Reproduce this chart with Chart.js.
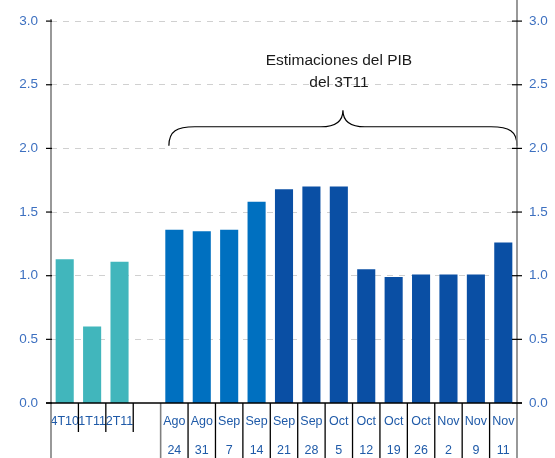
<!DOCTYPE html>
<html>
<head>
<meta charset="utf-8">
<script src="https://cdn.jsdelivr.net/npm/chart.js@4.4.1/dist/chart.umd.min.js"></script>
<style>
  html, body { margin: 0; padding: 0; background: #ffffff; }
  #wrap { width: 555px; height: 458px; }
</style>
</head>
<body>
<div id="wrap"><canvas id="c" width="555" height="458"></canvas></div>
<script>
// Quarterly GDP growth (q/q, %) and the weekly nowcasts of 3T11
const quarterLabels = ['4T10', '1T11', '2T11'];
const quarterValues = [1.13, 0.60, 1.11];

const weekLabels = [
  ['Ago', '24'], ['Ago', '31'], ['Sep', '7'], ['Sep', '14'],
  ['Sep', '21'], ['Sep', '28'], ['Oct', '5'], ['Oct', '12'],
  ['Oct', '19'], ['Oct', '26'], ['Nov', '2'], ['Nov', '9'], ['Nov', '11']
];
const earlyEstimates = [1.36, 1.35, 1.36, 1.58];
const lateEstimates = [1.68, 1.70, 1.70, 1.05, 0.99, 1.01, 1.01, 1.01, 1.26];

const yTickValues = [0, 0.5, 1.0, 1.5, 2.0, 2.5, 3.0];
const annotationLines = ['Estimaciones del PIB', 'del 3T11'];

// category axis: quarters, one empty slot, then the weekly estimates
const categories = [...quarterLabels, '', ...weekLabels];
const n = categories.length;
const gapIndex = quarterLabels.length;
const weekStart = gapIndex + 1;

function place(values, start) {
  const arr = new Array(n).fill(null);
  values.forEach((v, i) => { arr[start + i] = v; });
  return arr;
}
const quarterSeries = place(quarterValues, 0);
const earlySeries = place(earlyEstimates, weekStart);
const lateSeries = place(lateEstimates, weekStart + earlyEstimates.length);

const tickFont = { family: "'Liberation Sans', Arial, sans-serif", size: 13.5 };
const catFont = { family: "'Liberation Sans', Arial, sans-serif", size: 12.5, lineHeight: 2.3 };

// axis lines, tick marks, category separators, brace and note
const decorations = {
  id: 'decorations',
  afterDatasetsDraw(chart) {
    const { ctx, chartArea: a, scales } = chart;
    const xs = scales.x, ys = scales.y;
    ctx.save();

    // brace over the weekly estimates
    const L = xs.getPixelForValue(weekStart - 0.2);
    const R = a.right;
    const M = (L + R) / 2;
    const yEnd = ys.getPixelForValue(2.02);
    const yMid = ys.getPixelForValue(2.17);
    const yTip = ys.getPixelForValue(2.30);
    ctx.strokeStyle = '#000000';
    ctx.lineWidth = 1.2;
    ctx.beginPath();
    ctx.moveTo(L, yEnd);
    ctx.bezierCurveTo(L, yMid + 4, L + 8, yMid, L + 26, yMid);
    ctx.lineTo(M - 22, yMid);
    ctx.bezierCurveTo(M - 8, yMid, M, yMid - 5, M, yTip);
    ctx.bezierCurveTo(M, yMid - 5, M + 8, yMid, M + 22, yMid);
    ctx.lineTo(R - 26, yMid);
    ctx.bezierCurveTo(R - 8, yMid, R, yMid + 4, R, yEnd);
    ctx.stroke();

    ctx.fillStyle = '#1a1a1a';
    ctx.font = "15.5px 'Liberation Sans', Arial, sans-serif";
    ctx.textAlign = 'center';
    ctx.textBaseline = 'middle';
    ctx.fillText(annotationLines[0], M - 4, yTip - 49);
    ctx.fillText(annotationLines[1], M - 4, yTip - 27);
    ctx.restore();
  },
  afterDraw(chart) {
    const { ctx, chartArea: a, scales, height } = chart;
    const xs = scales.x, ys = scales.y;
    ctx.save();

    // category separators below the axis
    const step = xs.getPixelForValue(1) - xs.getPixelForValue(0);
    for (let i = 1; i < n; i++) {
      const bx = xs.getPixelForValue(i) - step / 2;
      if (i < gapIndex + 1) {
        ctx.strokeStyle = '#000000';
        ctx.lineWidth = 1.3;
        ctx.beginPath(); ctx.moveTo(bx, a.bottom); ctx.lineTo(bx, a.bottom + 29); ctx.stroke();
      } else if (i === weekStart) {
        ctx.strokeStyle = '#7f7f7f';
        ctx.lineWidth = 1.6;
        ctx.beginPath(); ctx.moveTo(bx, a.bottom); ctx.lineTo(bx, height); ctx.stroke();
      } else {
        ctx.strokeStyle = '#000000';
        ctx.lineWidth = 1.3;
        ctx.beginPath(); ctx.moveTo(bx, a.bottom); ctx.lineTo(bx, height); ctx.stroke();
      }
    }

    // vertical axes
    ctx.strokeStyle = '#7f7f7f';
    ctx.lineWidth = 1.6;
    ctx.beginPath(); ctx.moveTo(a.left, a.top - 2); ctx.lineTo(a.left, height); ctx.stroke();
    ctx.beginPath(); ctx.moveTo(a.right, 0); ctx.lineTo(a.right, height); ctx.stroke();

    // horizontal axis
    ctx.strokeStyle = '#000000';
    ctx.lineWidth = 1.5;
    ctx.beginPath(); ctx.moveTo(a.left - 5, a.bottom); ctx.lineTo(a.right + 5, a.bottom); ctx.stroke();

    // tick marks
    ctx.lineWidth = 1.2;
    ys.ticks.forEach(t => {
      const y = ys.getPixelForValue(t.value);
      ctx.beginPath(); ctx.moveTo(a.left - 5, y); ctx.lineTo(a.left + 1, y); ctx.stroke();
      ctx.beginPath(); ctx.moveTo(a.right - 5, y); ctx.lineTo(a.right + 5, y); ctx.stroke();
    });
    ctx.restore();
  }
};

const barCommon = { grouped: false, barPercentage: 0.66, categoryPercentage: 1.0, borderWidth: 0 };

new Chart(document.getElementById('c'), {
  type: 'bar',
  data: {
    labels: categories,
    datasets: [
      { label: 'Trimestral', data: quarterSeries, backgroundColor: '#41b6bc', ...barCommon },
      { label: 'Estimación', data: earlySeries, backgroundColor: '#0070c0', ...barCommon },
      { label: 'Estimación', data: lateSeries, backgroundColor: '#0a4fa4', ...barCommon }
    ]
  },
  options: {
    responsive: false,
    animation: false,
    layout: { padding: { top: 7.9, left: 0, right: 0, bottom: 0 } },
    plugins: { legend: { display: false }, tooltip: { enabled: false } },
    scales: {
      x: {
        offset: true,
        grid: { display: false, drawTicks: false },
        border: { display: false },
        ticks: { autoSkip: false, maxRotation: 0, minRotation: 0, padding: 4.6, color: '#1f5aa8', font: catFont },
        afterFit(s) { s.height = 55; }
      },
      y: {
        position: 'left',
        min: 0, max: 3,
        afterBuildTicks(s) { s.ticks = yTickValues.map(v => ({ value: v })); },
        ticks: { padding: 13, color: '#3d70c0', font: tickFont, callback: v => Number(v).toFixed(1) },
        grid: { color: '#d0d0d0', drawTicks: false, lineWidth: c => (c.tick && c.tick.value === 0 ? 0 : 1) },
        border: { display: false, dash: [6, 6] },
        afterFit(s) { s.width = 51; }
      },
      y2: {
        position: 'right',
        min: 0, max: 3,
        afterBuildTicks(s) { s.ticks = yTickValues.map(v => ({ value: v })); },
        ticks: { padding: 12, color: '#3d70c0', font: tickFont, callback: v => Number(v).toFixed(1) },
        grid: { display: false, drawTicks: false },
        border: { display: false },
        afterFit(s) { s.width = 38; }
      }
    }
  },
  plugins: [decorations]
});
</script>
</body>
</html>
